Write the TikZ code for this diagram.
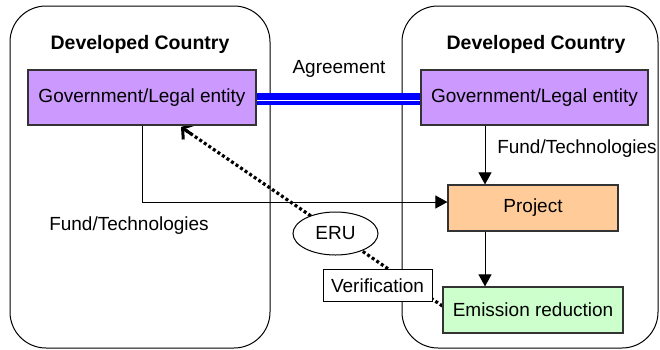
\documentclass[tikz,border=0pt]{standalone}
\usepackage{fontspec}
\setmainfont{Liberation Sans}
\usetikzlibrary{arrows.meta,shapes.geometric,calc}
\pgfdeclarelayer{bg}
\pgfsetlayers{bg,main}
\begin{document}
\begin{tikzpicture}[x=1pt,y=-1pt,
  font=\fontsize{19}{23}\selectfont,
  country/.style={draw=black,line width=1pt,fill=white,rounded corners=36pt},
  box/.style={draw=black!80,line width=1.2pt,inner sep=0pt,minimum height=#1},
  arr/.style={line width=0.9pt,-{Triangle[length=12pt,width=13pt]}},
  dots/.style={line width=3.2pt,dash pattern=on 3pt off 2.5pt,black},
  title/.style={font=\fontsize{19.5}{23}\selectfont\bfseries}]
\useasboundingbox (0,0) rectangle (660,349);
% nodes
\node[box=55pt,fill={rgb,255:red,204;green,153;blue,255},minimum width=228pt] (lgov) at (142,97.5) {Government/Legal entity};
\node[box=55pt,fill={rgb,255:red,204;green,153;blue,255},minimum width=227pt] (rgov) at (534.5,97.5) {Government/Legal entity};
\node[box=46pt,fill={rgb,255:red,255;green,204;blue,153},minimum width=170pt] (proj) at (533,208) {Project};
\node[box=46pt,fill={rgb,255:red,204;green,255;blue,204},minimum width=180pt] (emr) at (533,310) {Emission reduction};
\node[draw=black,line width=1pt,fill=white,ellipse,minimum width=85pt,minimum height=43pt,inner sep=0pt] (eru) at (335.5,233.5) {ERU};
\node[draw=black,line width=1pt,fill=white,minimum width=109pt,minimum height=32pt,inner sep=0pt] (ver) at (377.5,285.5) {Verification};
\node[title] (t1) at (140,44) {Developed Country};
\node[title] (t2) at (536,44) {Developed Country};
\node (agr) at (339,69) {Agreement};
\node (f1) at (577,148.5) {Fund/Technologies};
\node (f2) at (129,226) {Fund/Technologies};
\coordinate (ra) at (485,0);
\coordinate (tip) at (181,127);
\coordinate (ds) at ([yshift=4pt]emr.west);
\begin{pgfonlayer}{bg}
\draw[country] (10,6) rectangle (270,348);
\draw[country] (402,6) rectangle (658,348);
\fill[blue] (lgov.east |- 0,92.5) rectangle (rgov.west |- 0,104.5);
\draw[white,line width=1.5pt] (lgov.east |- 0,100.3) -- (rgov.west |- 0,100.3);
\draw[arr] (rgov.south -| ra) -- (proj.north -| ra);
\draw[arr] (proj.south -| ra) -- (emr.north -| ra);
\draw[arr] (lgov.south) |- ([yshift=6pt]proj.west);
\draw[dots] (ds) -- ($(tip)!4pt!(ds)$);
\draw[line width=3pt,{Straight Barb[length=7pt,width=18pt]}-] (tip) -- ($(tip)!12pt!(ds)$);
\end{pgfonlayer}
\end{tikzpicture}
\end{document}
